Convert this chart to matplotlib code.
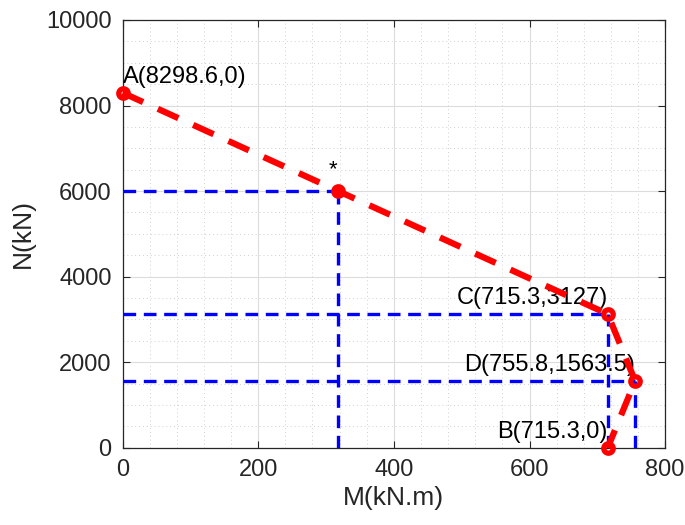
import numpy as np
import matplotlib
matplotlib.use('Agg')
import matplotlib.pyplot as plt
from matplotlib.ticker import MultipleLocator

plt.rcParams['font.family'] = ['Liberation Sans', 'DejaVu Sans']

# interaction curve points (M in kN.m, N in kN)
curve_m = [0, 318, 715.3, 755.8, 715.3]
curve_n = [8298.6, 6000, 3127, 1563.5, 0]

# blue guide lines drawn to the three interior points
guide_m = [318, 715.3, 755.8]
guide_n = [6000, 3127, 1563.5]

labels = ['A(8298.6,0)', '*', 'C(715.3,3127)', 'D(755.8,1563.5)', 'B(715.3,0)']

text_color = '#262626'

fig = plt.figure(figsize=(6.85, 5.25), dpi=100, facecolor='white')
ax = fig.add_axes([0.179, 0.147, 0.792, 0.815])

# guides
for m, n in zip(guide_m, guide_n):
    ax.plot([0, m], [n, n], color='#0000ff', lw=2.4, dashes=(3.8, 2.3), zorder=3)
    ax.plot([m, m], [0, n], color='#0000ff', lw=2.4, dashes=(3.8, 2.3), zorder=3)

# red curve
ax.plot(curve_m, curve_n, color='#ff0000', lw=4.5, dashes=(3.6, 2.6),
        marker='o', ms=6.8, mfc='none', mec='#ff0000', mew=3.8, zorder=4,
        clip_on=False)

fs = 17
ax.text(curve_m[0], curve_n[0] + 120, labels[0], fontsize=fs, color='black',
        ha='left', va='bottom')
ax.text(curve_m[1] - 2, curve_n[1] + 250, labels[1], fontsize=16, color='black',
        ha='right', va='bottom')
for i in (2, 3, 4):
    ax.text(curve_m[i], curve_n[i] + 120, labels[i], fontsize=fs, color='black',
            ha='right', va='bottom')

ax.set_xlim(0, 800)
ax.set_ylim(0, 10000)
ax.xaxis.set_major_locator(MultipleLocator(200))
ax.xaxis.set_minor_locator(MultipleLocator(40))
ax.yaxis.set_major_locator(MultipleLocator(2000))
ax.yaxis.set_minor_locator(MultipleLocator(500))

ax.grid(True, which='major', color='#dcdcdc', lw=0.8, ls='-', zorder=0)
ax.grid(True, which='minor', color='#d0d0d0', lw=0.7, ls=(0, (1, 3)), zorder=0)
ax.set_axisbelow(True)

ax.tick_params(which='both', direction='in', top=True, right=True,
               colors=text_color, labelsize=fs, pad=8)
ax.tick_params(which='major', length=5, width=0.8)
ax.tick_params(which='minor', length=0)
for s in ax.spines.values():
    s.set_color(text_color)
    s.set_linewidth(0.9)

ax.set_xlabel('M(kN.m)', fontsize=19, color=text_color, labelpad=4)
ax.set_ylabel('N(kN)', fontsize=19, color=text_color, labelpad=8)

fig.savefig('out.png', dpi=100, facecolor='white')
